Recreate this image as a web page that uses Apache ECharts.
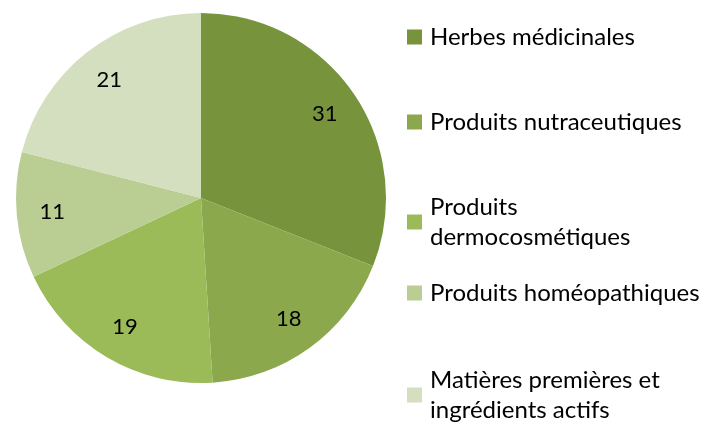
<!DOCTYPE html>
<html>
<head>
<meta charset="utf-8">
<title>Pie</title>
<script src="https://cdn.jsdelivr.net/npm/echarts@6/dist/echarts.min.js"></script>
<style>
  body { margin: 0; background: #fff; }
  #chart { width: 710px; height: 425px; }
</style>
</head>
<body>
<div id="chart"></div>
<script>
var categories = ['Herbes médicinales', 'Produits nutraceutiques', 'Produits\ndermocosmétiques', 'Produits homéopathiques', 'Matières premières et\ningrédients actifs'];
var values = [31, 18, 19, 11, 21];
var colors = ['#77933C', '#8BA84C', '#9BBB59', '#BACE94', '#D3DFBE'];
var legendTops = [37, 122, 222, 293, 395];

var data = categories.map(function (c, i) {
    return { name: c, value: values[i], itemStyle: { color: colors[i] } };
});

var myChart = echarts.init(document.getElementById('chart'));

// one legend per item so the uneven spacing can be matched
var legends = categories.map(function (c, i) {
    var lines = c.split('\n').length;
    return {
        data: [c],
        left: 407,
        top: legendTops[i] - lines * 15,
        padding: 0,
        orient: 'vertical',
        itemWidth: 15,
        itemHeight: 15,
        icon: 'rect',
        selectedMode: false,
        textStyle: { fontFamily: 'Lato', fontSize: 24, color: '#000', lineHeight: 30, padding: [0, 0, 0, 3] }
    };
});

var option = {
    animation: false,
    legend: legends,
    series: [
        {
            type: 'pie',
            center: [201, 198],
            radius: [0, 185],
            startAngle: 90,
            clockwise: true,
            silent: true,
            label: { show: false },
            labelLine: { show: false },
            itemStyle: { borderWidth: 0 },
            data: data
        },
        {
            // transparent ring only used to put the numbers at ~0.8 of the radius
            type: 'pie',
            center: [201, 198],
            radius: [108, 185],
            startAngle: 90,
            clockwise: true,
            silent: true,
            legendHoverLink: false,
            itemStyle: { color: 'rgba(0,0,0,0)', borderWidth: 0 },
            label: {
                show: true,
                position: 'inside',
                formatter: '{c}',
                fontFamily: 'Lato',
                fontSize: 22,
                color: '#000'
            },
            labelLine: { show: false },
            data: values.map(function (v, i) { return { name: categories[i] + ' ', value: v }; })
        }
    ]
};
myChart.setOption(option);
</script>
</body>
</html>
